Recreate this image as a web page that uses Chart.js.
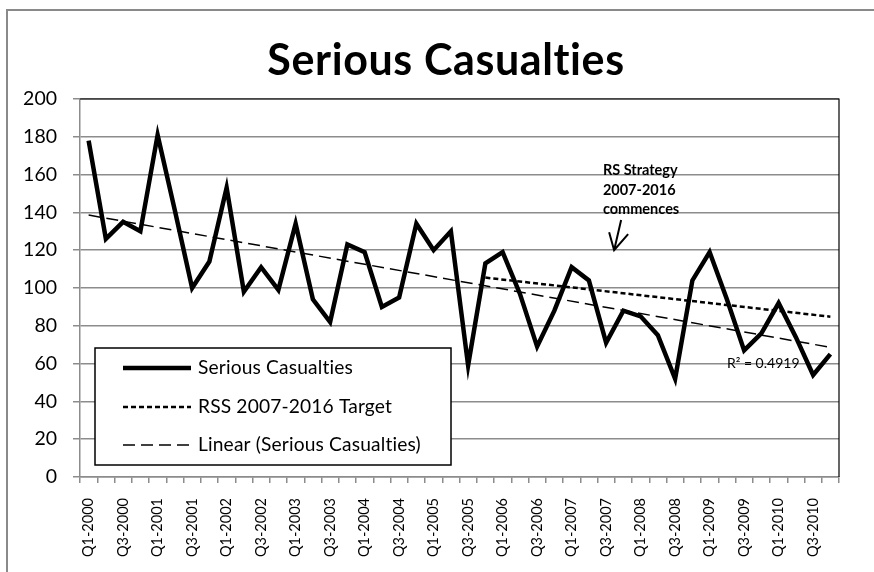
<!DOCTYPE html>
<html>
<head>
<meta charset="utf-8">
<script src="https://cdn.jsdelivr.net/npm/chart.js@4.4.1/dist/chart.umd.min.js"></script>
<style>
  html, body { margin: 0; padding: 0; background: #fff; }
  #frame { position: absolute; left: 6px; top: 9px; width: 900px; height: 600px;
           border-left: 2px solid #8a8a8a; border-top: 2px solid #8a8a8a; }
  #wrap { position: absolute; left: 0; top: 0; width: 874px; height: 572px; }
</style>
</head>
<body>
<div id="frame"></div>
<div id="wrap"><canvas id="chart" width="874" height="572"></canvas></div>
<script>
// quarters shown on the x axis
const quarters = [
  'Q1-2000','Q2-2000','Q3-2000','Q4-2000','Q1-2001','Q2-2001','Q3-2001','Q4-2001',
  'Q1-2002','Q2-2002','Q3-2002','Q4-2002','Q1-2003','Q2-2003','Q3-2003','Q4-2003',
  'Q1-2004','Q2-2004','Q3-2004','Q4-2004','Q1-2005','Q2-2005','Q3-2005','Q4-2005',
  'Q1-2006','Q2-2006','Q3-2006','Q4-2006','Q1-2007','Q2-2007','Q3-2007','Q4-2007',
  'Q1-2008','Q2-2008','Q3-2008','Q4-2008','Q1-2009','Q2-2009','Q3-2009','Q4-2009',
  'Q1-2010','Q2-2010','Q3-2010','Q4-2010'
];

// serious casualties per quarter
const seriousCasualties = [
  178, 126, 135, 130, 181, 141, 100, 114,
  153,  98, 111,  99, 134,  94,  82, 123,
  119,  90,  95, 134, 120, 130,  59, 113,
  119,  97,  69,  88, 111, 104,  71,  88,
   85,  75,  52, 104, 119,  94,  67,  76,
   92,  74,  54,  65
];

// RSS 2007-2016 target: straight line from Q4-2005 to Q4-2010
const rssTarget = [
  null, null, null, null, null, null, null, null,
  null, null, null, null, null, null, null, null,
  null, null, null, null, null, null, null, 105.5,
  null, null, null, null, null, null, null, null,
  null, null, null, null, null, null, null, null,
  null, null, null, 84.8
];

// Excel linear trendline: only its two end values
const linearTrend = [
  138.6, null, null, null, null, null, null, null,
  null, null, null, null, null, null, null, null,
  null, null, null, null, null, null, null, null,
  null, null, null, null, null, null, null, null,
  null, null, null, null, null, null, null, null,
  null, null, null, 68.6
];

const chartTitle = 'Serious Casualties';
const rSquared = 'R\u00B2 = 0.4919';
const noteLines = ['RS Strategy', '2007-2016', 'commences'];

const FONT = 'Lato, "Open Sans", sans-serif';

// title, legend box, trendline label and the strategy note
const overlay = {
  id: 'overlay',
  afterDatasetsDraw(chart) {
    const ctx = chart.ctx;
    const area = chart.chartArea;
    const xs = chart.scales.x;
    const ys = chart.scales.y;
    ctx.save();

    // title (centred a bit right of the canvas like the original)
    ctx.fillStyle = '#000';
    ctx.font = 'bold 43px ' + FONT;
    ctx.letterSpacing = '0.6px'; // also stops the "ti" ligature
    ctx.textAlign = 'center';
    ctx.textBaseline = 'alphabetic';
    ctx.fillText(chartTitle, 446, 75);
    ctx.letterSpacing = '0px';

    // plot border on top and right
    ctx.strokeStyle = '#000';
    ctx.lineWidth = 1.2;
    ctx.beginPath();
    ctx.moveTo(area.left, area.top);
    ctx.lineTo(area.right, area.top);
    ctx.lineTo(area.right, area.bottom);
    ctx.stroke();

    // R squared
    ctx.font = '14px ' + FONT;
    ctx.textAlign = 'left';
    ctx.textBaseline = 'middle';
    ctx.fillText(rSquared, xs.getPixelForValue(37), ys.getPixelForValue(60));

    // note + arrow
    ctx.font = 'bold 14.5px ' + FONT;
    const nx = xs.getPixelForValue(29) + 14;
    noteLines.forEach((t, i) => {
      ctx.fillText(t, nx, ys.getPixelForValue(162) + i * 19.5);
    });
    const tipX = xs.getPixelForValue(30) + 8;
    const tipY = ys.getPixelForValue(120);
    ctx.lineWidth = 2;
    ctx.beginPath();
    ctx.moveTo(tipX + 7, ys.getPixelForValue(136));
    ctx.lineTo(tipX, tipY);
    ctx.moveTo(tipX - 5, tipY - 18);
    ctx.lineTo(tipX, tipY);
    ctx.lineTo(tipX + 14, tipY - 16);
    ctx.stroke();

    // legend
    const bx = area.left + 15, by = area.bottom - 129, bw = 356, bh = 117;
    ctx.fillStyle = '#fff';
    ctx.fillRect(bx, by, bw, bh);
    ctx.strokeStyle = '#000';
    ctx.lineWidth = 1.5;
    ctx.strokeRect(bx, by, bw, bh);
    ctx.font = '19.2px ' + FONT;
    ctx.letterSpacing = '0.15px';
    const rows = [by + 20, by + 59, by + 97];
    chart.data.datasets.forEach((ds, i) => {
      const y = rows[i];
      ctx.strokeStyle = ds.borderColor;
      ctx.lineWidth = ds.borderWidth;
      ctx.setLineDash(ds.borderDash || []);
      ctx.beginPath();
      ctx.moveTo(bx + 28, y);
      ctx.lineTo(bx + 96, y);
      ctx.stroke();
      ctx.setLineDash([]);
      ctx.fillStyle = '#000';
      ctx.fillText(ds.label, bx + 103, y);
    });
    ctx.restore();
  }
};

new Chart(document.getElementById('chart'), {
  type: 'line',
  data: {
    labels: quarters,
    datasets: [
      { label: 'Serious Casualties', data: seriousCasualties, borderColor: '#000',
        borderWidth: 4.5, pointRadius: 0, tension: 0, borderJoinStyle: 'miter' },
      { label: 'RSS 2007-2016 Target', data: rssTarget, borderColor: '#000',
        borderWidth: 2.5, borderDash: [5, 3], pointRadius: 0, spanGaps: true },
      { label: 'Linear (Serious Casualties)', data: linearTrend, borderColor: '#000',
        borderWidth: 1.5, borderDash: [12, 6], pointRadius: 0, spanGaps: true }
    ]
  },
  options: {
    responsive: false,
    animation: false,
    layout: { padding: { left: 0, right: 35, top: 99, bottom: 0 } },
    plugins: {
      legend: { display: false },
      tooltip: { enabled: false },
      title: { display: false }
    },
    scales: {
      x: {
        offset: true,
        grid: { offset: true, drawOnChartArea: false, tickLength: 6, color: '#8c8c8c', lineWidth: 1.5 },
        border: { color: '#8c8c8c', width: 1.5 },
        ticks: {
          autoSkip: false, minRotation: 90, maxRotation: 90, padding: 15, color: '#000',
          font: { family: FONT, size: 14.5 },
          callback: (v, i) => (i % 2 === 0 ? quarters[i] : '')
        },
        afterFit: s => { s.height = 95; }
      },
      y: {
        min: 0, max: 200,
        ticks: { stepSize: 20, padding: 16, color: '#000', font: { family: FONT, size: 19.5 } },
        grid: { color: '#8c8c8c', lineWidth: 1.5, tickLength: 7 },
        border: { color: '#8c8c8c', width: 1.5 },
        afterFit: s => { s.width = 80; }
      }
    }
  },
  plugins: [overlay]
});
</script>
</body>
</html>
